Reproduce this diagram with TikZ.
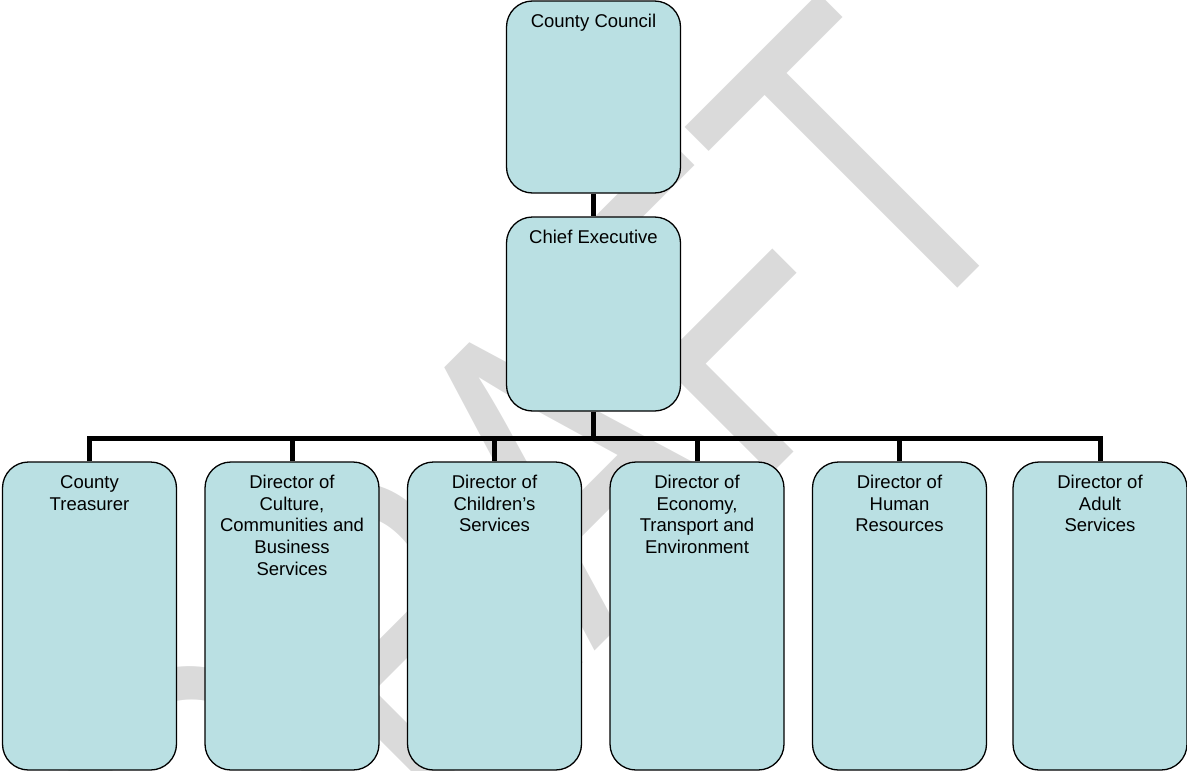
\documentclass[tikz,border=0pt]{standalone}
\usepackage{fontspec}
\setmainfont{Liberation Sans}
\usepackage{graphicx}
\usetikzlibrary{calc}
\definecolor{boxfill}{RGB}{186,224,227}
\definecolor{wmgray}{RGB}{218,218,218}
\begin{document}
\begin{tikzpicture}[x=1pt,y=-1pt,
  box/.style={draw=black, line width=1.3pt, fill=boxfill, rounded corners=26pt, minimum width=174pt, inner sep=0pt},
  lbl/.style={anchor=north, align=center, inner sep=0pt, font=\fontsize{18.5}{21.6}\selectfont},
  conn/.style={line width=5pt, line join=miter}]
\useasboundingbox (0,0) rectangle (1187,771);
% watermark
\node[rotate=45, anchor=base west, inner sep=0pt, text=wmgray] (draft) at (252,994)
  {\scalebox{1}[1.33]{\fontsize{335}{335}\selectfont DRAFT}};
% boxes
\node[box, minimum height=192pt] (cc) at (593.5,97) {};
\node[box, minimum height=194pt] (ce) at (593.5,314) {};
\node[box, minimum height=308pt] (b1) at (89.5,616) {};
\node[box, minimum height=308pt] (b2) at (292,616) {};
\node[box, minimum height=308pt] (b3) at (494.5,616) {};
\node[box, minimum height=308pt] (b4) at (697,616) {};
\node[box, minimum height=308pt] (b5) at (899.5,616) {};
\node[box, minimum height=308pt] (b6) at (1100,616) {};
% labels
\node[lbl] (cct) at ([yshift=-11.95pt]cc.north) {\strut County Council};
\node[lbl] (cet) at ([yshift=-11.95pt]ce.north) {\strut Chief Executive};
\node[lbl] (b1t) at ([yshift=-11.95pt]b1.north) {\strut County\\Treasurer};
\node[lbl] (b2t) at ([yshift=-11.95pt]b2.north) {\strut Director of\\Culture,\\Communities and\\Business\\Services};
\node[lbl] (b3t) at ([yshift=-11.95pt]b3.north) {\strut Director of\\Children’s\\Services};
\node[lbl] (b4t) at ([yshift=-11.95pt]b4.north) {\strut Director of\\Economy,\\Transport and\\Environment};
\node[lbl] (b5t) at ([yshift=-11.95pt]b5.north) {\strut Director of\\Human\\Resources};
\node[lbl] (b6t) at ([yshift=-11.95pt]b6.north) {\strut Director of\\Adult\\Services};
% connectors
\coordinate (bus) at (0,438.5);
\draw[conn] (cc.south) -- (ce.north);
\draw[conn] (ce.south) -- (ce.south |- bus);
\draw[conn] (b1.north) -- (b1.north |- bus) -- (b6.north |- bus) -- (b6.north);
\foreach \b in {b2,b3,b4,b5} \draw[conn] (\b.north) -- (\b.north |- bus);
\end{tikzpicture}
\end{document}
